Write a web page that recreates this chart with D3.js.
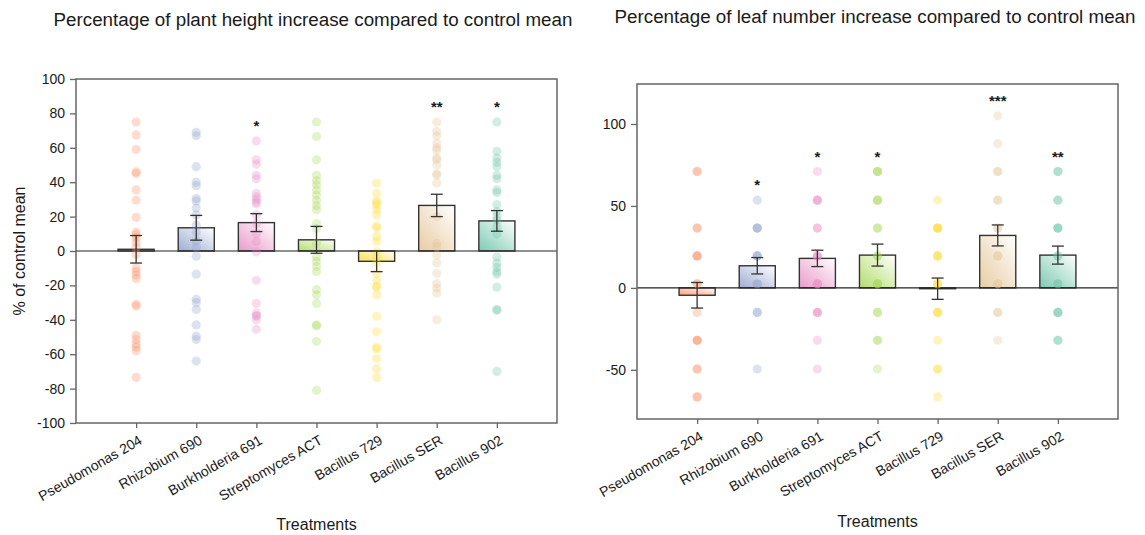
<!DOCTYPE html>
<html>
<head>
<meta charset="utf-8">
<script src="https://cdn.jsdelivr.net/npm/d3@7"></script>
<style>
  body { margin: 0; background: #fff; }
  svg { display: block; }
  text { font-family: "Liberation Sans", Arial, sans-serif; fill: #1a1a1a; }
</style>
</head>
<body>
<div id="chart"></div>
<script>
// Data ----------------------------------------------
const categories = ["Pseudomonas 204", "Rhizobium 690", "Burkholderia 691", "Streptomyces ACT",
  "Bacillus 729", "Bacillus SER", "Bacillus 902"];

// plant height (% of control mean)
const heightMeans = [1, 13.5, 16.5, 6.5, -6, 26.5, 17.5];
const heightSE = [8, 7.2, 5.2, 7.8, 6, 6.5, 6];
const heightStars = ["", "", "*", "", "", "**", "*"];
const heightTicks = [-100, -80, -60, -40, -20, 0, 20, 40, 60, 80, 100];
const heightPoints = [
  [75, 67.5, 59, 46, 45, 35.5, 29.5, 19.5, 11, 9.5, 7.5, 5, 2, -2, -10, -12, -14, -16, -32, -31, -49, -51.5, -54, -56, -58, -73.5],
  [69, 67, 49, 40, 38, 30.5, 29, 25, 21, 15, 11, 6, 2, -3, -13.5, -28, -30, -34, -43, -49.5, -51.5, -64],
  [64, 53, 50.5, 44, 42, 33.5, 31.5, 30, 28.5, 27.5, 21, 16, 10, 5.5, -0.5, -17, -30.5, -36, -37.5, -38, -40, -45.5],
  [75, 66.5, 53, 44, 41, 38.5, 35.5, 32.5, 29.5, 26.5, 24, 16, 13, 4.5, -3.5, -6, -9, -12, -22.5, -25.5, -30.5, -43, -43.5, -52.5, -81],
  [39.5, 33.5, 29, 28, 26.5, 24, 21, 14.5, 13.5, 8.5, 5.5, -0.5, -3.5, -7, -13, -17, -20.5, -21, -25.5, -38, -47, -56, -57, -62.5, -68.5, -73.5],
  [75, 69.5, 67, 62.5, 60, 58.5, 54, 53, 50, 45, 44, 39.5, 20, 4.5, 2.5, -2.5, -7, -13, -19, -21.5, -24.5, -40],
  [75, 58, 54, 51.5, 49, 44, 42, 35.5, 34, 27, 23, 20, 18, 14, 10, -3.5, -7, -9.5, -12, -13.5, -21, -34, -34.5, -70]
];

// leaf number (% of control mean)
const leafMeans = [-4.5, 13.5, 18, 20, -0.5, 32, 20];
const leafSE = [7.8, 5, 5, 6.7, 6.5, 6.4, 5.5];
const leafStars = ["", "*", "*", "*", "", "***", "**"];
const leafTicks = [-50, 0, 50, 100];
const leafPoints = [
  [71, 71, 36.5, 36.5, 19.5, 19.5, 19.5, 2.5, 2.5, -15, -32, -32, -32, -49.5, -49.5, -66.5, -66.5],
  [53.5, 36.5, 36.5, 36.5, 19.5, 19.5, 19.5, 2.5, 2.5, -15, -15, -49.5],
  [71, 53.5, 53.5, 53.5, 36.5, 36.5, 19.5, 19.5, 19.5, 2.5, 2.5, 2.5, -15, -15, -15, -32, -49.5],
  [71, 71, 71, 53.5, 53.5, 53.5, 36.5, 36.5, 19.5, 19.5, 2.5, 2.5, 2.5, -15, -15, -32, -32, -49.5],
  [53.5, 36.5, 36.5, 36.5, 36.5, 19.5, 19.5, 19.5, 2.5, 2.5, 2.5, -15, -15, -15, -32, -49.5, -49.5, -66.5],
  [105, 88, 71, 71, 53.5, 53.5, 36.5, 36.5, 19.5, 19.5, 2.5, 2.5, -15, -15, -32],
  [71, 71, 53.5, 53.5, 36.5, 36.5, 36.5, 19.5, 19.5, 2.5, 2.5, -15, -15, -15, -32, -32]
];

// Constants ----------------------------------------------
const width = 1145;
const height = 535;
const colors = ["#fc8d62", "#8da0cb", "#e78ac3", "#a6d854", "#ffd92f", "#e5c494", "#66c2a5"];
const frameColor = "#666666";
const inkColor = "#333333";
const dotRadius = 4.6;
const dotOpacity = 0.3;

const svg = d3.select("#chart")
  .append("svg")
  .attr("width", width)
  .attr("height", height);

// Gradients for the bars
const defs = svg.append("defs");
colors.forEach((c, i) => {
  const g = defs.append("linearGradient")
    .attr("id", "grad" + i)
    .attr("x1", 0).attr("y1", 1).attr("x2", 1).attr("y2", 0);
  g.append("stop").attr("offset", "0%").attr("stop-color", c).attr("stop-opacity", 0.85);
  g.append("stop").attr("offset", "100%").attr("stop-color", "#ffffff").attr("stop-opacity", 0.9);
});

// Functions ----------------------------------------------
function drawPanel(p) {
  const x = d3.scalePoint().domain(categories).range([p.left, p.right]).padding(1);
  const y = d3.scaleLinear().domain(p.domain).range([p.bottom, p.top]);
  const barW = x.step() * 0.6;
  const g = svg.append("g");

  // title
  g.append("text")
    .attr("x", p.titleX)
    .attr("y", p.titleY)
    .attr("text-anchor", "middle")
    .style("font-size", "18.8px")
    .text(p.title);

  // bars
  g.append("g").selectAll("rect")
    .data(categories)
    .join("rect")
    .attr("x", d => x(d) - barW / 2)
    .attr("width", barW)
    .attr("y", (d, i) => y(Math.max(0, p.means[i])))
    .attr("height", (d, i) => Math.abs(y(p.means[i]) - y(0)))
    .attr("fill", (d, i) => `url(#grad${i})`)
    .attr("stroke", inkColor)
    .attr("stroke-width", 1.4);

  // zero line
  g.append("line")
    .attr("x1", p.left).attr("x2", p.right)
    .attr("y1", y(0)).attr("y2", y(0))
    .attr("stroke", "#222")
    .attr("stroke-width", 1.2);

  // points
  categories.forEach((c, i) => {
    g.append("g").selectAll("circle")
      .data(p.points[i])
      .join("circle")
      .attr("cx", x(c))
      .attr("cy", d => y(d))
      .attr("r", dotRadius)
      .attr("fill", colors[i])
      .attr("fill-opacity", dotOpacity);
  });

  // error bars
  const eb = g.append("g").attr("stroke", inkColor).attr("stroke-width", 1.3);
  categories.forEach((c, i) => {
    const cx = x(c);
    const hi = y(p.means[i] + p.se[i]);
    const lo = y(p.means[i] - p.se[i]);
    eb.append("line").attr("x1", cx).attr("x2", cx).attr("y1", hi).attr("y2", lo);
    eb.append("line").attr("x1", cx - 6).attr("x2", cx + 6).attr("y1", hi).attr("y2", hi);
    eb.append("line").attr("x1", cx - 6).attr("x2", cx + 6).attr("y1", lo).attr("y2", lo);
  });

  // significance stars
  g.append("g").selectAll("text")
    .data(categories)
    .join("text")
    .attr("x", d => x(d))
    .attr("y", (d, i) => y(d3.max(p.points[i])) - 10)
    .attr("text-anchor", "middle")
    .style("font-size", "15px")
    .style("font-weight", "bold")
    .text((d, i) => p.stars[i]);

  // frame
  g.append("rect")
    .attr("x", p.left).attr("y", p.top)
    .attr("width", p.right - p.left)
    .attr("height", p.bottom - p.top)
    .attr("fill", "none")
    .attr("stroke", frameColor)
    .attr("stroke-width", 1.5);

  // y axis (plain hyphen for negatives, like the original)
  const ya = g.append("g")
    .attr("transform", `translate(${p.left},0)`)
    .call(d3.axisLeft(y).tickValues(p.ticks).tickSize(6).tickPadding(5).tickFormat(d => String(d)));
  ya.select(".domain").remove();
  ya.selectAll(".tick line").attr("stroke", frameColor).attr("stroke-width", 1.3);
  ya.selectAll(".tick text").style("font-size", "14px").attr("fill", "#1a1a1a");

  // x axis
  const xa = g.append("g")
    .attr("transform", `translate(0,${p.bottom})`)
    .call(d3.axisBottom(x).tickSize(5).tickFormat(""));
  xa.select(".domain").remove();
  xa.selectAll(".tick line").attr("stroke", frameColor).attr("stroke-width", 1.3);

  g.append("g").selectAll("text")
    .data(categories)
    .join("text")
    .attr("transform", d => `translate(${x(d) + 7},${p.bottom + 20}) rotate(-30)`)
    .attr("text-anchor", "end")
    .style("font-size", "14px")
    .text(d => d);

  // x title
  g.append("text")
    .attr("x", (p.left + p.right) / 2)
    .attr("y", p.xTitleY)
    .attr("text-anchor", "middle")
    .style("font-size", "16px")
    .text("Treatments");

  if (p.yTitle) {
    g.append("text")
      .attr("transform", `translate(19,${(p.top + p.bottom) / 2}) rotate(-90)`)
      .attr("text-anchor", "middle")
      .attr("dominant-baseline", "central")
      .style("font-size", "16px")
      .text(p.yTitle);
  }
}

drawPanel({
  title: "Percentage of plant height increase compared to control mean",
  titleX: 313, titleY: 26,
  left: 76, right: 557, top: 79, bottom: 423,
  domain: [-100, 100], ticks: heightTicks,
  means: heightMeans, se: heightSE, stars: heightStars, points: heightPoints,
  xTitleY: 530, yTitle: "% of control mean"
});

drawPanel({
  title: "Percentage of leaf number increase compared to control mean",
  titleX: 875, titleY: 23,
  left: 637, right: 1118, top: 84, bottom: 419,
  domain: [-80, 124.4], ticks: leafTicks,
  means: leafMeans, se: leafSE, stars: leafStars, points: leafPoints,
  xTitleY: 527, yTitle: null
});
</script>
</body>
</html>
